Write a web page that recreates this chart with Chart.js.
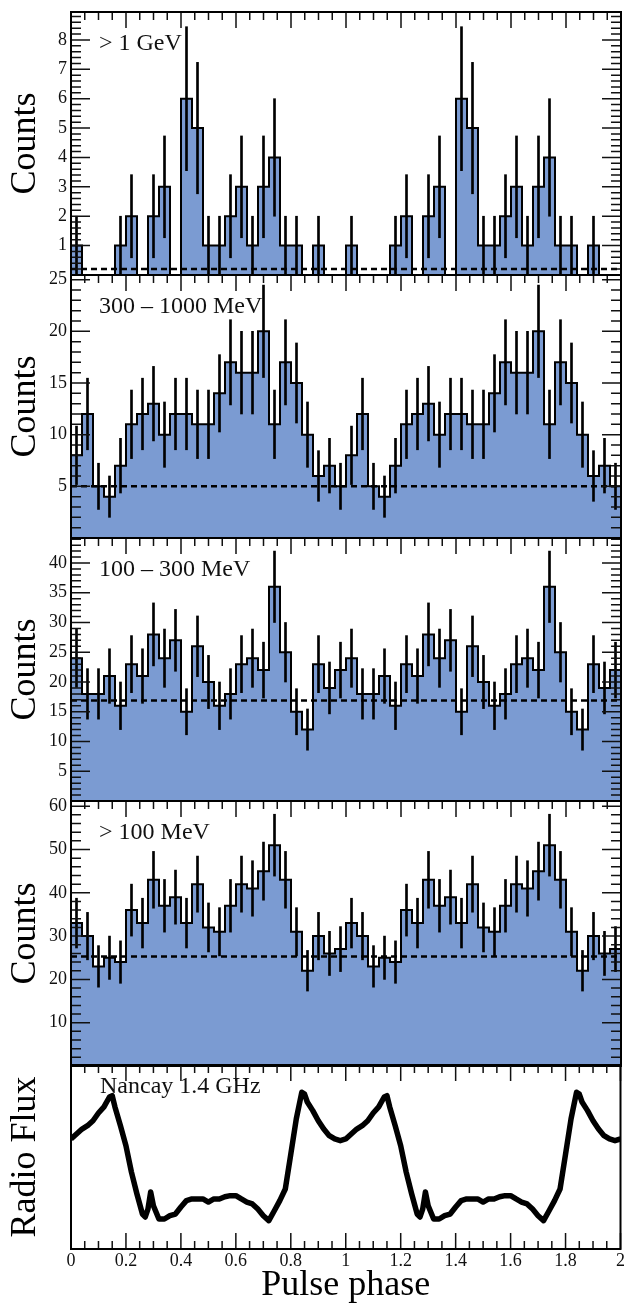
<!DOCTYPE html>
<html><head><meta charset="utf-8">
<script src="https://cdn.jsdelivr.net/npm/chart.js@4/dist/chart.umd.min.js"></script>
<style>
html,body{margin:0;padding:0;background:#fff;}
#wrap{position:relative;width:626px;height:1306px;overflow:hidden;background:#fff;}
#wrap canvas{position:absolute;left:0;}
</style></head><body><div id="wrap"></div>
<script>
// ---------------- data (one pulsar rotation, 25 phase bins; plotted twice) ----------------
const binsPerRotation = 25;
const countsAbove1GeV   = [1,0,0,0,1,2,0,2,3,0,6,5,1,1,2,3,1,3,4,1,1,0,1,0,0];
const counts300to1000   = [8,12,5,4,7,11,12,13,10,12,12,11,11,14,17,16,16,20,11,17,15,10,6,7,5];
const counts100to300    = [24,18,18,21,16,23,21,28,24,27,15,26,20,16,18,23,24,22,36,25,15,12,23,19,22];
const countsAbove100MeV = [33,30,23,25,24,36,33,43,37,39,33,42,32,31,37,42,41,45,51,43,31,22,30,26,27];
const bandLabels  = ['> 1 GeV', '300 \u2013 1000 MeV', '100 \u2013 300 MeV', '> 100 MeV'];
const backgrounds = [0.2, 5, 16.9, 25.3];

// Nancay 1.4 GHz radio profile (arbitrary flux units, one rotation)
const radioPhase = [0,0.02,0.04,0.06,0.08,0.10,0.12,0.14,0.15,0.16,0.18,0.20,0.22,0.24,0.26,0.27,0.28,0.29,0.30,0.32,0.34,0.36,0.38,0.40,0.42,0.44,0.46,0.48,0.50,0.52,0.54,0.56,0.58,0.60,0.62,0.64,0.66,0.68,0.70,0.72,0.74,0.76,0.78,0.80,0.82,0.84,0.85,0.86,0.88,0.90,0.92,0.94,0.96,0.98];
const radioFlux  = [59.8,62.5,65.2,67.0,69.7,73.9,77.2,82.6,83.3,77.2,67.0,56.1,41.8,29.9,19.0,17.4,21.7,31.0,23.5,16.3,16.3,18.1,19.0,22.8,26.3,27.2,27.2,27.2,25.5,27.2,27.2,28.4,29.0,29.0,27.2,25.5,24.5,21.7,18.1,15.4,20.8,26.3,32.6,51.6,70.7,85.2,84.2,79.9,75.2,69.7,65.2,61.6,59.8,58.9];

const phaseTickLabels = ['0','0.2','0.4','0.6','0.8','1','1.2','1.4','1.6','1.8','2'];

// ---------------- styling / layout ----------------
const FONT = "'Liberation Serif','DejaVu Serif','Times New Roman',serif";
Chart.defaults.font.family = FONT;
Chart.defaults.color = '#111';
const FILL = '#7b9bd2';

const panelLayout = [
  {top:12,  height:263, ymax:8.95, major:1,  minor:0.2},
  {top:275, height:263, ymax:25.45, major:5, minor:1},
  {top:538, height:263, ymax:44.2, major:5,  minor:1},
  {top:801, height:265, ymax:61.2, major:10, minor:2}
];
const allCounts = [countsAbove1GeV, counts300to1000, counts100to300, countsAbove100MeV];

const frameTicks = {
  id:'frameTicks',
  beforeDatasetsDraw(chart, args, o){
    if(!o.label) return;
    const {ctx, chartArea:a} = chart;
    ctx.save();
    ctx.font = '24px ' + FONT; ctx.fillStyle = '#111';
    ctx.textBaseline = 'alphabetic'; ctx.textAlign = 'left';
    ctx.fillText(o.label, a.left + o.labelDx, a.top + o.labelDy);
    ctx.restore();
  },
  afterDatasetsDraw(chart, args, o){
    const {ctx, chartArea:a, scales:{x, y}} = chart;
    ctx.save();
    ctx.strokeStyle = '#111'; ctx.lineWidth = 1.5; ctx.beginPath();
    for(let k=0;k<=40;k++){
      const px = x.getPixelForValue(k*0.05);
      const len = (k%4===0) ? 16 : 8;
      ctx.moveTo(px, a.top); ctx.lineTo(px, a.top+len);
      if(o.bottomTicks){ ctx.moveTo(px, a.bottom); ctx.lineTo(px, a.bottom-len); }
    }
    if(o.yMinor){
      const n = Math.floor(y.max/o.yMinor + 1e-6);
      for(let k=1;k<=n;k++){
        const v = k*o.yMinor, r = v/o.yMajor;
        const len = Math.abs(r-Math.round(r))<1e-6 ? 19 : 10;
        const py = y.getPixelForValue(v);
        ctx.moveTo(a.left, py); ctx.lineTo(a.left+len, py);
        ctx.moveTo(a.right, py); ctx.lineTo(a.right-len, py);
      }
    }
    ctx.stroke();
    ctx.lineWidth = 2; ctx.strokeStyle = '#000';
    ctx.strokeRect(a.left, a.top, a.right-a.left, a.bottom-a.top);
    ctx.restore();
  }
};

const wrap = document.getElementById('wrap');
function makeCanvas(top, height){
  const c = document.createElement('canvas');
  c.width = 626; c.height = height; c.style.top = top + 'px';
  wrap.appendChild(c); return c;
}

const binWidth = 1/binsPerRotation;
allCounts.forEach((counts, p) => {
  const L = panelLayout[p];
  const two = counts.concat(counts);
  const hist = two.map((v,i)=>({x:i*binWidth, y:v}));
  hist.push({x:two.length*binWidth, y:two[two.length-1]});
  // Poisson (sqrt N) error bars on the counts
  const errs = two.map((v,i)=>({x:(i+0.5)*binWidth, y:[v-Math.sqrt(v), v+Math.sqrt(v)]})).filter(d=>d.y[1]>d.y[0]);
  const c = makeCanvas(L.top-20, L.height+40);
  new Chart(c, {
    type:'line',
    data:{datasets:[
      {type:'line', data:[{x:0,y:backgrounds[p]},{x:2,y:backgrounds[p]}], borderColor:'#000', borderWidth:2.5, borderDash:[6,4], pointRadius:0, fill:false},
      {type:'bar', data:errs, backgroundColor:'#000', borderWidth:0, barThickness:2, grouped:false},
      {type:'line', data:hist, stepped:'before', borderColor:'#000', borderWidth:2, backgroundColor:FILL, fill:'origin', pointRadius:0}
    ]},
    options:{
      responsive:false, animation:false, events:[],
      layout:{padding:{top:20,bottom:20,left:0,right:5}},
      plugins:{legend:{display:false}, tooltip:{enabled:false},
        frameTicks:{label:bandLabels[p], labelDx:28, labelDy:38, yMajor:L.major, yMinor:L.minor}},
      scales:{
        x:{type:'linear', min:0, max:2, display:false, offset:false},
        y:{type:'linear', min:0, max:L.ymax, afterFit:s=>{s.width=71;},
           grid:{display:false, drawTicks:false}, border:{display:false},
           ticks:{stepSize:L.major, includeBounds:false, padding:4, font:{size:18}, color:'#111',
                  callback:v=> v===0 ? null : v},
           title:{display:true, text:'Counts', font:{size:36, lineHeight:1}, padding:{top:8,bottom:0}, color:'#000'}}
      }
    },
    plugins:[frameTicks]
  });
});

// radio panel
const radioPts = [];
[0,1].forEach(r => radioPhase.forEach((ph,i)=>radioPts.push({x:ph+r, y:radioFlux[i]})));
radioPts.push({x:2, y:radioFlux[0]});
const rc = makeCanvas(1045, 261);
new Chart(rc, {
  type:'line',
  data:{datasets:[{data:radioPts, borderColor:'#000', borderWidth:5.5, pointRadius:0, tension:0, fill:false, borderJoinStyle:'round'}]},
  options:{
    responsive:false, animation:false, events:[],
    layout:{padding:{top:20,bottom:0,left:0,right:5}},
    plugins:{legend:{display:false}, tooltip:{enabled:false},
      frameTicks:{label:'Nancay 1.4 GHz', labelDx:29, labelDy:28, bottomTicks:true}},
    scales:{
      x:{type:'linear', min:0, max:2, position:'bottom', offset:false, afterFit:s=>{s.height=57;},
         grid:{display:false, drawTicks:false}, border:{display:false},
         ticks:{stepSize:0.2, padding:1, font:{size:18}, color:'#111', maxRotation:0, autoSkip:false,
                callback:v=>phaseTickLabels[Math.round(v/0.2)]},
         title:{display:true, text:'Pulse phase', font:{size:36, lineHeight:1}, padding:{top:0,bottom:2}, color:'#000'}},
      y:{type:'linear', min:0, max:100, afterFit:s=>{s.width=71;},
         ticks:{display:false}, grid:{display:false, drawTicks:false}, border:{display:false},
         title:{display:true, text:'Radio Flux', font:{size:36, lineHeight:1}, padding:{top:8,bottom:0}, color:'#000'}}
    }
  },
  plugins:[frameTicks]
});
</script></body></html>
